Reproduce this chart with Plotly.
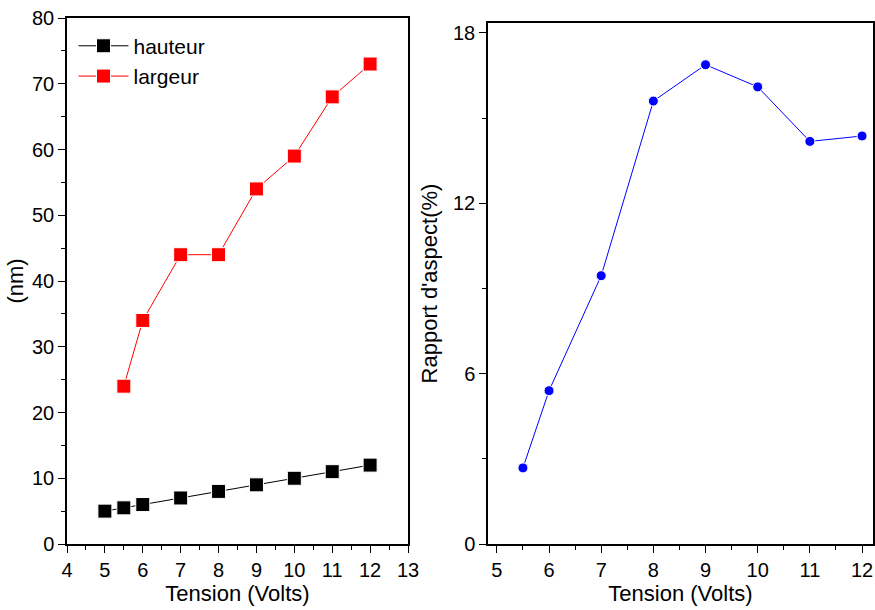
import plotly.graph_objects as go

tension_h = [5, 5.5, 6, 7, 8, 9, 10, 11, 12]
hauteur = [5, 5.5, 6, 7, 8, 9, 10, 11, 12]
tension_l = [5.5, 6, 7, 8, 9, 10, 11, 12]
largeur = [24, 34, 44, 44, 54, 59, 68, 73]
tension_r = [5.5, 6, 7, 8, 9, 10, 11, 12]
rapport = [2.68, 5.4, 9.45, 15.6, 16.88, 16.1, 14.18, 14.37]

FONT = "Liberation Sans, Arial, sans-serif"
fig = go.Figure()
fig.add_trace(go.Scatter(x=tension_h, y=hauteur, mode="lines+markers", name="hauteur",
                         line=dict(color="black", width=1),
                         marker=dict(symbol="square", size=14, color="black",
                                     line=dict(color="white", width=1)),
                         xaxis="x", yaxis="y"))
fig.add_trace(go.Scatter(x=tension_l, y=largeur, mode="lines+markers", name="largeur",
                         line=dict(color="red", width=1),
                         marker=dict(symbol="square", size=14, color="red",
                                     line=dict(color="white", width=1)),
                         xaxis="x", yaxis="y"))
fig.add_trace(go.Scatter(x=tension_r, y=rapport, mode="lines+markers", name="rapport",
                         showlegend=False,
                         line=dict(color="blue", width=1),
                         marker=dict(symbol="circle", size=10, color="blue",
                                     line=dict(color="white", width=1)),
                         xaxis="x2", yaxis="y2"))

tickfont = dict(family=FONT, size=20, color="black")
titlefont = dict(family=FONT, size=22, color="black")
dom_x1 = [67/875, 408/875]
dom_x2 = [488/875, 873/875]
dom_y1 = [1-544/610, 1-18/610]
dom_y2 = [1-544/610, 1-23/610]

common = dict(showgrid=False, zeroline=False, showline=True, linecolor="black", linewidth=1.5,
              mirror=True, ticks="outside", ticklen=7, tickwidth=1.3, tickcolor="black",
              tickfont=tickfont, automargin=False)

fig.update_layout(
    width=875, height=610, margin=dict(l=0, r=0, t=0, b=0),
    plot_bgcolor="white", paper_bgcolor="white",
    xaxis=dict(domain=dom_x1, anchor="y", range=[4, 13], dtick=1, tick0=4,
               minor=dict(ticks="outside", dtick=0.5, ticklen=4, tickcolor="black"),
               title=dict(text="Tension (Volts)", font=titlefont, standoff=5), **common),
    yaxis=dict(domain=dom_y1, anchor="x", range=[0, 80], dtick=10,
               minor=dict(ticks="outside", dtick=5, ticklen=4, tickcolor="black"),
               title=dict(text="(nm)", font=titlefont, standoff=2), **common),
    xaxis2=dict(domain=dom_x2, anchor="y2", range=[4.83, 12.21], dtick=1, tick0=5,
                minor=dict(ticks="outside", dtick=0.5, ticklen=4, tickcolor="black"),
                title=dict(text="Tension (Volts)", font=titlefont, standoff=5), **common),
    yaxis2=dict(domain=dom_y2, anchor="x2", range=[0, 18.35], dtick=6,
                minor=dict(ticks="outside", dtick=3, ticklen=4, tickcolor="black"),
                title=dict(text="Rapport d'aspect(%)", font=titlefont, standoff=9), **common),
    xaxis3=dict(overlaying="x", anchor="y", side="top", range=[4, 13], dtick=1, tick0=4,
                showticklabels=False, ticks="inside", ticklen=5, tickcolor="black",
                minor=dict(ticks="inside", dtick=0.5, ticklen=3, tickcolor="black"),
                showgrid=False, zeroline=False, showline=False),
    yaxis3=dict(overlaying="y", anchor="x", side="right", range=[0, 80], dtick=10,
                showticklabels=False, ticks="inside", ticklen=5, tickcolor="black",
                minor=dict(ticks="inside", dtick=5, ticklen=3, tickcolor="black"),
                showgrid=False, zeroline=False, showline=False),
    xaxis4=dict(overlaying="x2", anchor="y2", side="top", range=[4.83, 12.21], dtick=1, tick0=5,
                showticklabels=False, ticks="inside", ticklen=5, tickcolor="black",
                minor=dict(ticks="inside", dtick=0.5, ticklen=3, tickcolor="black"),
                showgrid=False, zeroline=False, showline=False),
    yaxis4=dict(overlaying="y2", anchor="x2", side="right", range=[0, 18.35], dtick=6,
                showticklabels=False, ticks="inside", ticklen=5, tickcolor="black",
                minor=dict(ticks="inside", dtick=3, ticklen=3, tickcolor="black"),
                showgrid=False, zeroline=False, showline=False),
    legend=dict(x=0.084, y=0.958, xanchor="left", yanchor="top", bgcolor="rgba(0,0,0,0)",
                font=dict(family=FONT, size=21, color="black"), itemwidth=50,
                tracegroupgap=0),
    showlegend=True,
)
fig.write_html("out.html", config={"displayModeBar": False},
               post_script="document.body.style.margin='0';document.body.style.overflow='hidden';")
